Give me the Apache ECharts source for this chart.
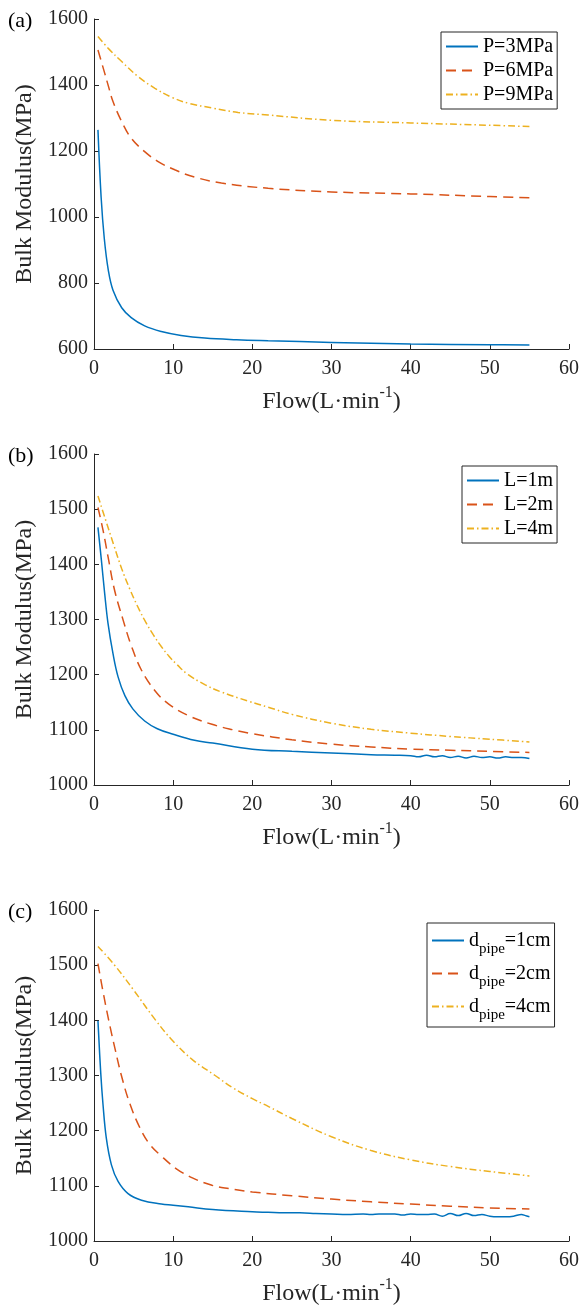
<!DOCTYPE html>
<html>
<head>
<meta charset="utf-8">
<script src="https://cdn.jsdelivr.net/npm/echarts@6/dist/echarts.min.js"></script>
<style>
html,body{margin:0;padding:0;background:#fff;}
#chart{width:582px;height:1313px;}
</style>
</head>
<body>
<div id="chart"></div>
<script>
// ---------- data ----------
const xTicks = [0, 10, 20, 30, 40, 50, 60];
const panelLabels = ['(a)', '(b)', '(c)'];
const legendNamesA = ['P=3MPa', 'P=6MPa', 'P=9MPa'];
const legendNamesB = ['L=1m', 'L=2m', 'L=4m'];
const legendNamesC = ['dpipe=1cm', 'dpipe=2cm', 'dpipe=4cm'];

// panel (a)
const aFlow1 = [0.5, 0.9, 1.3, 1.8, 2.4, 3.5, 4.7, 6.4, 8.5, 11, 14, 18, 22, 30, 40, 50, 55];
const aP3    = [1264, 1060, 935, 840, 778, 725, 695, 670, 653, 641, 633, 628, 625, 620, 615, 613, 612];
const aFlow2 = [0.5, 1.35, 1.8, 2.4, 3.5, 4.7, 6.4, 8.1, 10.2, 12.7, 16.1, 22, 30, 40, 50, 55];
const aP6    = [1506, 1436, 1398, 1350, 1289, 1239, 1198, 1168, 1143, 1121, 1103, 1087, 1076, 1070, 1062, 1058];
const aFlow3 = [0.5, 1.8, 3.5, 5.6, 7.7, 9.8, 11.9, 15, 18.2, 22, 30, 40, 50, 55];
const aP9    = [1547, 1511, 1471, 1425, 1390, 1363, 1345, 1330, 1317, 1309, 1293, 1285, 1278, 1274];

// panel (b)
const bFlow1 = [0.5, 0.93, 1.35, 1.77, 2.4, 3.04, 3.9, 4.9, 6.4, 8, 10, 12.7, 15, 20, 25, 30, 35, 38, 40, 41, 42, 43, 44, 45, 46, 47, 48, 49, 50, 51, 52, 53, 54, 55];
const bL1    = [1467, 1408, 1347, 1293, 1238, 1196, 1162, 1138, 1116, 1102, 1092, 1081, 1076, 1065, 1061, 1058, 1055, 1054, 1053, 1051, 1054, 1051, 1053, 1050, 1052, 1049, 1052, 1050, 1051, 1049, 1051, 1050, 1050, 1048];
const bFlow2 = [0.5, 1.14, 1.77, 2.6, 3.7, 4.7, 6, 7.7, 9.4, 11.9, 14.9, 17.6, 20, 25, 30, 35, 40, 45, 50, 55];
const bL2    = [1503, 1462, 1414, 1353, 1298, 1253, 1208, 1171, 1147, 1126, 1110, 1100, 1093, 1082, 1074, 1069, 1065, 1063, 1061, 1059];
const bFlow3 = [0.5, 1.5, 2.5, 3.5, 4.5, 5.5, 6.5, 7.5, 8.5, 9.5, 10.5, 11.9, 14, 16, 19.5, 22, 25, 30, 35, 40, 45, 50, 55];
const bL4    = [1524, 1479, 1435, 1392, 1356, 1324, 1296, 1272, 1251, 1233, 1218, 1200, 1182, 1169, 1152, 1141, 1128, 1112, 1101, 1094, 1088, 1083, 1078];

// panel (c)
const cFlow1 = [0.5, 0.84, 1.14, 1.56, 2.2, 3.04, 4.3, 6, 8.5, 10, 11.9, 15, 20, 22, 24, 26, 28, 30, 32, 34, 35, 36, 38, 39, 40, 41, 42, 43, 44, 45, 46, 47, 48, 49, 50, 51, 52, 53, 54, 54.5, 55];
const cD1    = [1399, 1307, 1247, 1186, 1138, 1108, 1086, 1074, 1067, 1065, 1062, 1057, 1053, 1052, 1051, 1051, 1050, 1049, 1048, 1049, 1048, 1049, 1049, 1047, 1049, 1048, 1048, 1049, 1045, 1050, 1046, 1050, 1046, 1048, 1045, 1044, 1044, 1045, 1048, 1046, 1044];
const cFlow2 = [0.5, 1.1, 1.86, 2.6, 3.46, 4.5, 5.8, 7, 8.5, 10.5, 12.5, 14.9, 17, 20, 25, 30, 35, 40, 45, 50, 55];
const cD2    = [1503, 1455, 1400, 1352, 1300, 1250, 1205, 1176, 1154, 1130, 1114, 1101, 1095, 1089, 1082, 1076, 1071, 1067, 1063, 1060, 1058];
const cFlow3 = [0.5, 2.6, 5, 7.8, 10, 12.5, 15.3, 17.5, 20, 22, 25, 30, 35, 40, 45, 50, 55];
const cD4    = [1534, 1500, 1455, 1400, 1362, 1328, 1300, 1278, 1258, 1244, 1222, 1189, 1164, 1147, 1135, 1126, 1118];

// ---------- styling ----------
const FONT = "'Liberation Serif', 'Times New Roman', serif";
const INK = '#262626';
const COLORS = ['#0072BD', '#D95319', '#EDB120'];
const DASHES = ['solid', [10, 6], [7, 3, 1.5, 3]];

function zip(xs, ys) { return xs.map((x, i) => [x, ys[i]]); }

const grids = [
  { left: 94, top: 19, width: 476, height: 330 },
  { left: 94, top: 454, width: 476, height: 331 },
  { left: 94, top: 910, width: 476, height: 331 }
];
const yRanges = [[600, 1600, 200], [1000, 1600, 100], [1000, 1600, 100]];

const xAxes = grids.map((g, i) => ({
  gridIndex: i, type: 'value', min: 0, max: 60, interval: 10,
  axisLine: { show: true, onZero: false, lineStyle: { color: INK, width: 1 } },
  axisTick: { show: true, inside: true, length: 5, lineStyle: { color: INK, width: 1 } },
  axisLabel: { color: INK, fontSize: 20, fontFamily: FONT, margin: 10, formatter: v => String(v) },
  splitLine: { show: false },
  name: 'Flow(L·min{sup|-1})', nameLocation: 'middle', nameGap: 41,
  nameTextStyle: {
    color: INK, fontSize: 24, fontFamily: FONT, lineHeight: 24,
    rich: { sup: { fontSize: 16, lineHeight: 16, fontFamily: FONT, color: INK, padding: [0, 0, 18, 0] } }
  }
}));
const yAxes = grids.map((g, i) => ({
  gridIndex: i, type: 'value', min: yRanges[i][0], max: yRanges[i][1], interval: yRanges[i][2],
  axisLine: { show: true, onZero: false, lineStyle: { color: INK, width: 1 } },
  axisTick: { show: true, inside: true, length: 5, lineStyle: { color: INK, width: 1 } },
  axisLabel: { color: INK, fontSize: 20, fontFamily: FONT, margin: 6, formatter: v => String(v) },
  splitLine: { show: false },
  name: 'Bulk Modulus(MPa)', nameLocation: 'middle', nameGap: 54,
  nameTextStyle: { color: INK, fontSize: 24, fontFamily: FONT }
}));

function mkSeries(name, gi, k, xs, ys) {
  return {
    name: name, type: 'line', xAxisIndex: gi, yAxisIndex: gi,
    data: zip(xs, ys), symbol: 'none', smooth: 0.4,
    lineStyle: { color: COLORS[k], width: 1.5, type: DASHES[k] },
    itemStyle: { color: COLORS[k] }, z: 3 - k
  };
}

const series = [
  mkSeries(legendNamesA[0], 0, 0, aFlow1, aP3),
  mkSeries(legendNamesA[1], 0, 1, aFlow2, aP6),
  mkSeries(legendNamesA[2], 0, 2, aFlow3, aP9),
  mkSeries(legendNamesB[0], 1, 0, bFlow1, bL1),
  mkSeries(legendNamesB[1], 1, 1, bFlow2, bL2),
  mkSeries(legendNamesB[2], 1, 2, bFlow3, bL4),
  mkSeries(legendNamesC[0], 2, 0, cFlow1, cD1),
  mkSeries(legendNamesC[1], 2, 1, cFlow2, cD2),
  mkSeries(legendNamesC[2], 2, 2, cFlow3, cD4)
];

const legendBase = {
  orient: 'vertical', itemWidth: 32, itemHeight: 14,
  borderColor: INK, borderWidth: 1, backgroundColor: '#fff',
  selectedMode: false,
  itemStyle: { opacity: 0 },
  textStyle: { color: '#000', fontSize: 20, fontFamily: FONT, lineHeight: 21 }
};
const legends = [
  Object.assign({}, legendBase, { data: legendNamesA, left: 441, top: 32, padding: [4, 4, 4, 4], itemGap: 3 }),
  Object.assign({}, legendBase, { data: legendNamesB, left: 462, top: 466, padding: [4, 4, 4, 4], itemGap: 3 }),
  Object.assign({}, legendBase, {
    data: legendNamesC, left: 427, top: 923, padding: [1, 4, 4, 4], itemGap: 0,
    formatter: function (n) { return '{n|d}{s|pipe}{n|' + n.slice(5) + '}'; },
    textStyle: {
      color: '#000', fontSize: 20, fontFamily: FONT,
      rich: {
        n: { fontSize: 20, lineHeight: 20, fontFamily: FONT, color: '#000' },
        s: { fontSize: 15, lineHeight: 14, fontFamily: FONT, color: '#000', padding: [18, 0, 0, 0] }
      }
    }
  })
];

const labelTops = [10, 445, 901];
const graphic = panelLabels.map((t, i) => ({
  type: 'text', left: 8, top: labelTops[i],
  style: { text: t, font: '22px ' + FONT, fill: '#000' }
}));

const chart = echarts.init(document.getElementById('chart'), null, { renderer: 'canvas' });
chart.setOption({
  backgroundColor: '#fff',
  animation: false,
  grid: grids,
  xAxis: xAxes,
  yAxis: yAxes,
  legend: legends,
  series: series,
  graphic: graphic
});
</script>
</body>
</html>
